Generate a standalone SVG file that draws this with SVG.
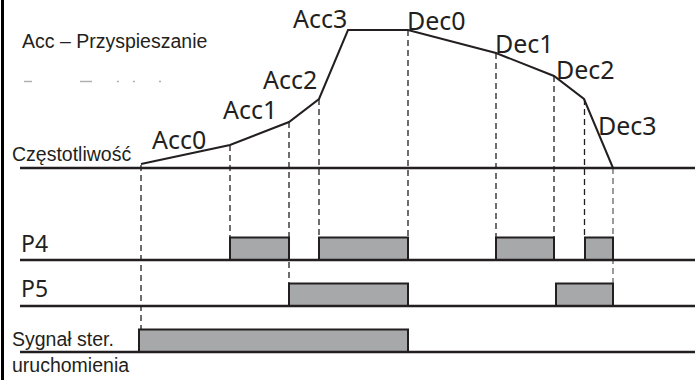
<svg xmlns="http://www.w3.org/2000/svg" width="695" height="380" viewBox="0 0 695 380">
<style>
.lbl{font-family:"Liberation Sans",Arial,sans-serif;font-size:19.5px;fill:#231f20}
.seg{font-family:"Noto Sans","Open Sans",sans-serif;font-size:25px;fill:#231f20}
.row{font-family:"Noto Sans","Open Sans",sans-serif;font-size:23px;fill:#231f20}
.base{stroke:#231f20;stroke-width:2.5;fill:none}
.pulse{fill:#a7a8aa;stroke:#231f20;stroke-width:2}
.dash{stroke:#231f20;stroke-width:1.3;stroke-dasharray:6 4;fill:none}
.frag{stroke:#b0b0b0;stroke-width:1.5}
</style>
<rect width="695" height="380" fill="#fff"/>
<line x1="2.5" y1="0" x2="2.5" y2="380" stroke="#000" stroke-width="3"/>
<g id="legend">
<text class="lbl" x="22" y="48">Acc – Przyspieszanie</text>
<line class="frag" x1="24" y1="81.5" x2="32" y2="81.5"/>
<line class="frag" x1="80" y1="81.5" x2="92" y2="81.5"/>
<line class="frag" x1="117" y1="81.5" x2="119" y2="81.5"/>
<line class="frag" x1="133" y1="81.5" x2="135" y2="81.5"/>
<line class="frag" x1="159" y1="81.5" x2="161" y2="81.5"/>
</g>
<g id="connectors">
<line class="dash" x1="141" y1="165" x2="141" y2="330"/>
<line class="dash" x1="230" y1="145" x2="230" y2="238"/>
<line class="dash" x1="289" y1="122" x2="289" y2="284"/>
<line class="dash" x1="319" y1="99" x2="319" y2="238"/>
<line class="dash" x1="408" y1="30" x2="408" y2="238"/>
<line class="dash" x1="496" y1="53" x2="496" y2="238"/>
<line class="dash" x1="554" y1="76" x2="554" y2="238"/>
<line class="dash" x1="584.5" y1="99" x2="584.5" y2="238"/>
<line class="dash" x1="613" y1="168" x2="613" y2="284" style="stroke:#666"/>
</g>
<g id="frequency">
<text class="lbl" x="12" y="161">Częstotliwość</text>
<line class="base" x1="20" y1="168" x2="695" y2="168"/>
<polyline fill="none" stroke="#231f20" stroke-width="2" stroke-linejoin="miter" points="141,164 230,145 289,122 319,99 348,30 408,30 496,53 554,76 584,99 613,168"/>
<text class="seg" x="152" y="149">Acc0</text>
<text class="seg" x="223" y="119">Acc1</text>
<text class="seg" x="263" y="89">Acc2</text>
<text class="seg" x="293" y="28">Acc3</text>
<text class="seg" x="407" y="30">Dec0</text>
<text class="seg" x="495" y="53">Dec1</text>
<text class="seg" x="556" y="79">Dec2</text>
<text class="seg" x="598" y="135">Dec3</text>
</g>
<g id="P4">
<text class="row" x="21" y="252">P4</text>
<rect class="pulse" x="230" y="237.5" width="59" height="22.5"/>
<rect class="pulse" x="319" y="237.5" width="89" height="22.5"/>
<rect class="pulse" x="496" y="237.5" width="58" height="22.5"/>
<rect class="pulse" x="585" y="237.5" width="28" height="22.5"/>
<line class="base" x1="20" y1="260" x2="695" y2="260"/>
</g>
<g id="P5">
<text class="row" x="21" y="297">P5</text>
<rect class="pulse" x="289" y="283.5" width="119" height="22.5"/>
<rect class="pulse" x="556" y="283.5" width="57" height="22.5"/>
<line class="base" x1="20" y1="306" x2="695" y2="306"/>
</g>
<g id="signal">
<text class="lbl" x="12" y="346">Sygnał ster.</text>
<text class="lbl" x="12" y="372">uruchomienia</text>
<rect class="pulse" x="139" y="329.5" width="269" height="22.5"/>
<line class="base" x1="20" y1="352" x2="695" y2="352"/>
</g>
</svg>
